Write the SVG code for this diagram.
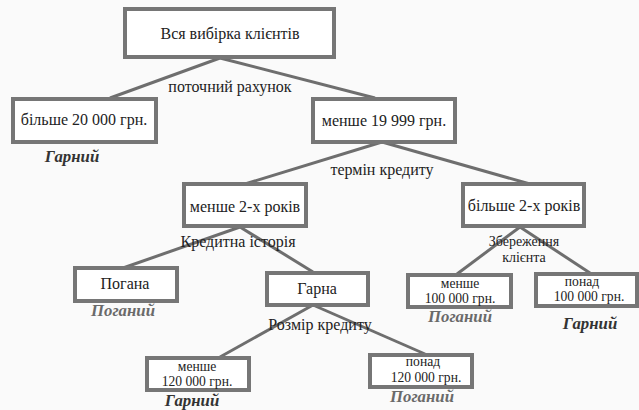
<svg xmlns="http://www.w3.org/2000/svg" width="639" height="410" viewBox="0 0 639 410">
<style>
.bg{fill:#fafafa}
.box{fill:#ffffff;stroke:#767676;stroke-width:4}
.ln{stroke:#6e6e6e;stroke-width:3;fill:none}
.txt text{fill:#222;text-anchor:middle}
.t16{font-size:16px}
.t14{font-size:14px}
.t13{font-size:13.6px}
.good{font-size:16.8px;font-weight:bold;font-style:italic;fill:#333 !important}
.bad{font-size:16.8px;font-weight:bold;font-style:italic;fill:#6a6a6a !important}
</style>
<rect class="bg" x="0" y="0" width="639" height="410"/>
<g id="connectors">
<line class="ln" x1="220" y1="58" x2="110" y2="98"/>
<line class="ln" x1="220" y1="58" x2="375" y2="98"/>
<line class="ln" x1="382" y1="142" x2="245" y2="184"/>
<line class="ln" x1="382" y1="142" x2="530" y2="184"/>
<line class="ln" x1="240" y1="227" x2="123" y2="268"/>
<line class="ln" x1="240" y1="227" x2="313" y2="272"/>
<line class="ln" x1="313" y1="305" x2="220" y2="357"/>
<line class="ln" x1="313" y1="305" x2="425" y2="354"/>
<line class="ln" x1="520" y1="227" x2="457" y2="274"/>
<line class="ln" x1="520" y1="227" x2="590" y2="273"/>
</g>
<g class="txt" font-family="Liberation Serif, Tinos, Times New Roman, DejaVu Serif, serif">
<g id="edge-labels">
<text class="t16" x="230" y="92">поточний рахунок</text>
<text class="t16" x="382" y="175">термін кредиту</text>
<text class="t16" x="238" y="247">Кредитна історія</text>
<text class="t16" x="320" y="330">Розмір кредиту</text>
<text class="t14" x="524" y="246">Збереження</text>
<text class="t14" x="524" y="262">клієнта</text>
</g>
<g id="root">
<rect class="box" x="125" y="9" width="209" height="48"/>
<text class="t16" x="230" y="39">Вся вибірка клієнтів</text>
</g>
<g id="acc-more">
<rect class="box" x="13" y="99" width="143" height="43"/>
<text class="t16" x="84" y="125">більше 20 000 грн.</text>
<text class="good" x="72" y="162">Гарний</text>
</g>
<g id="acc-less">
<rect class="box" x="313" y="99" width="142" height="43"/>
<text class="t16" x="384" y="126">менше 19 999 грн.</text>
</g>
<g id="term-less">
<rect class="box" x="184" y="184" width="122" height="42"/>
<text class="t16" x="245" y="212">менше 2-х років</text>
</g>
<g id="term-more">
<rect class="box" x="463" y="184" width="121" height="42"/>
<text class="t16" x="524" y="211">більше 2-х років</text>
</g>
<g id="hist-bad">
<rect class="box" x="75" y="268" width="102" height="33"/>
<text class="t16" x="125" y="289">Погана</text>
<text class="bad" x="123" y="316">Поганий</text>
</g>
<g id="hist-good">
<rect class="box" x="267" y="273" width="101" height="32"/>
<text class="t16" x="317" y="294">Гарна</text>
</g>
<g id="loan-less">
<rect class="box" x="147" y="358" width="102" height="32"/>
<text class="t13" x="197" y="371">менше</text>
<text class="t13" x="197" y="386">120 000 грн.</text>
<text class="good" x="192" y="406">Гарний</text>
</g>
<g id="loan-more">
<rect class="box" x="370" y="355" width="102" height="32"/>
<text class="t13" x="423" y="366">понад</text>
<text class="t13" x="426" y="382">120 000 грн.</text>
<text class="bad" x="422" y="402">Поганий</text>
</g>
<g id="save-less">
<rect class="box" x="408" y="275" width="103" height="32"/>
<text class="t13" x="460" y="288">менше</text>
<text class="t13" x="460" y="303">100 000 грн.</text>
<text class="bad" x="460" y="322">Поганий</text>
</g>
<g id="save-more">
<rect class="box" x="536" y="274" width="101" height="32"/>
<text class="t13" x="582" y="286">понад</text>
<text class="t13" x="589" y="301">100 000 грн.</text>
<text class="good" x="590" y="329">Гарний</text>
</g>
</g>
</svg>
